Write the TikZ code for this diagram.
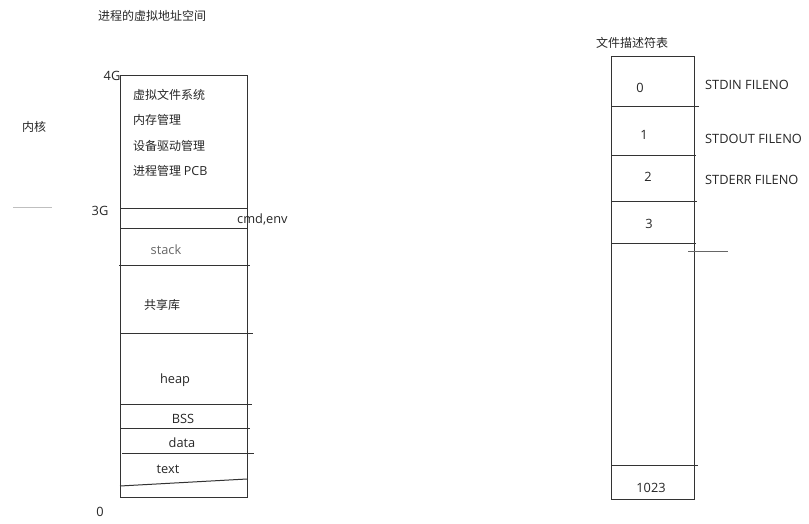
\documentclass[tikz,border=0pt]{standalone}
\usepackage{fontspec}
\setmainfont{Open Sans}
\newfontfamily\cjk{Noto Sans CJK SC}
\begin{document}
\begin{tikzpicture}[x=1pt,y=-1pt,
  seg/.style={draw=black!80,line width=1pt},
  lbl/.style={inner sep=0pt,font=\fontsize{12.8}{14}\selectfont,text=black!85},
  zh/.style={lbl,font=\cjk\fontsize{12}{14}\selectfont},
  lbll/.style={lbl,anchor=west},
  zhl/.style={zh,anchor=west}]
\useasboundingbox (0,0) rectangle (809,524);
% left box
\coordinate (LT) at (120,76);
\coordinate (LB) at (247,497);
\draw[seg] (LT) rectangle (LB);
\draw[seg] (120,208) -- (248,208);
\draw[seg] (120,228) -- (248,228);
\draw[seg] (119,265) -- (250,265);
\draw[seg] (120,333) -- (253,333);
\draw[seg] (120,404) -- (252,404);
\draw[seg] (120,428.5) -- (250,428.5);
\draw[seg] (122,453) -- (254,453);
\draw[seg] (120,486) -- (247,479);
\draw[black!25,line width=1pt] (13,207) -- (52,207);
% left labels
\node[zh] (title1) at (152,16) {进程的虚拟地址空间};
\node[lbl] (g4) at (112,76) {4G};
\node[lbl] (g3) at (100,211) {3G};
\node[lbl] (g0) at (100,512) {0};
\node[zh] (kern) at (34,127) {内核};
\node[zhl] (vfs) at (133,95) {虚拟文件系统};
\node[zhl] (mem) at (133,120) {内存管理};
\node[zhl] (dev) at (133,146) {设备驱动管理};
\node[zhl] (pcb) at (133,171) {进程管理 {\fontsize{12.5}{14}\selectfont\normalfont PCB}};
\node[lbll] (cmd) at (237,219) {cmd,env};
\node[lbl,text=black!60] (stack) at (166,250) {stack};
\node[zh] (shlib) at (162,305) {共享库};
\node[lbl] (heap) at (175,380) {heap};
\node[lbl] (bss) at (183,419) {BSS};
\node[lbl] (data) at (182,443) {data};
\node[lbl] (text) at (168,469) {text};
% right box
\draw[seg] (611,57) rectangle (694,499);
\draw[seg] (611,107) -- (699,107);
\draw[seg] (611,156) -- (696,156);
\draw[seg] (611,202) -- (697,202);
\draw[seg] (611,243) -- (696,243);
\draw[seg] (611,465) -- (698,465);
\draw[black!60,line width=0.6pt] (688,251) -- (728,251);
\node[zh] (title2) at (632,43) {文件描述符表};
\node[lbl] (f0) at (640,88) {0};
\node[lbl] (f1) at (644,135) {1};
\node[lbl] (f2) at (648,177) {2};
\node[lbl] (f3) at (649,224) {3};
\node[lbl] (f1023) at (651,488) {1023};
\node[lbll] (sin) at (705,85) {STDIN FILENO};
\node[lbll] (sout) at (705,139) {STDOUT FILENO};
\node[lbll] (serr) at (705,180) {STDERR FILENO};
\end{tikzpicture}
\end{document}
